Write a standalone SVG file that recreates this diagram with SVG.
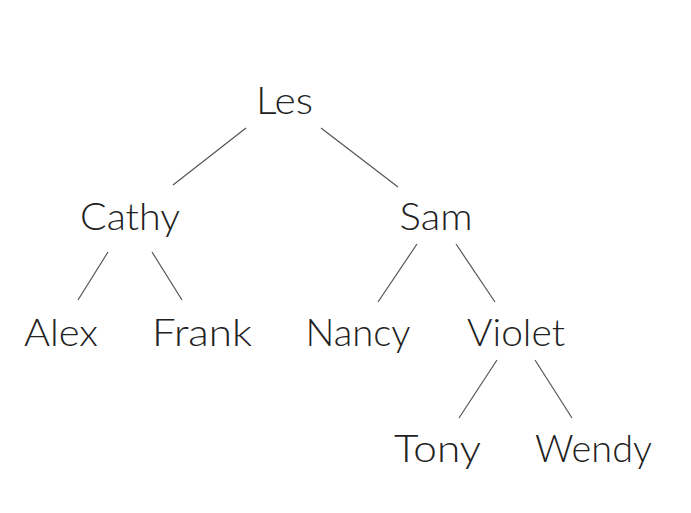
<svg xmlns="http://www.w3.org/2000/svg" width="691" height="513" viewBox="0 0 691 513">
<style>
.lbl{font-family:Lato,"Open Sans","Liberation Sans",sans-serif;font-size:38px;font-weight:300;fill:#222;text-anchor:middle}
.edge{stroke:#555;stroke-width:1.2;fill:none}
</style>
<rect width="691" height="513" fill="#fff"/>
<g id="connectors">
<line class="edge" x1="246" y1="128" x2="173" y2="185"/>
<line class="edge" x1="321" y1="128" x2="398" y2="187"/>
<line class="edge" x1="108" y1="252" x2="78" y2="300"/>
<line class="edge" x1="152" y1="252" x2="182" y2="300"/>
<line class="edge" x1="417" y1="244" x2="378" y2="302"/>
<line class="edge" x1="456" y1="244" x2="495" y2="302"/>
<line class="edge" x1="497" y1="360" x2="459" y2="418"/>
<line class="edge" x1="535" y1="360" x2="572" y2="418"/>
</g>
<g id="les"><text class="lbl" x="284.5" y="114" textLength="57" lengthAdjust="spacingAndGlyphs">Les</text></g>
<g id="cathy"><text class="lbl" x="130" y="230" textLength="100" lengthAdjust="spacingAndGlyphs">Cathy</text></g>
<g id="sam"><text class="lbl" x="436" y="230" textLength="73" lengthAdjust="spacingAndGlyphs">Sam</text></g>
<g id="alex"><text class="lbl" x="61" y="346" textLength="74" lengthAdjust="spacingAndGlyphs">Alex</text></g>
<g id="frank"><text class="lbl" x="202" y="346" textLength="100" lengthAdjust="spacingAndGlyphs">Frank</text></g>
<g id="nancy"><text class="lbl" x="358" y="346" textLength="105" lengthAdjust="spacingAndGlyphs">Nancy</text></g>
<g id="violet"><text class="lbl" x="516" y="346" textLength="98" lengthAdjust="spacingAndGlyphs">Violet</text></g>
<g id="tony"><text class="lbl" x="437.5" y="462" textLength="87" lengthAdjust="spacingAndGlyphs">Tony</text></g>
<g id="wendy"><text class="lbl" x="593.5" y="462" textLength="117" lengthAdjust="spacingAndGlyphs">Wendy</text></g>
</svg>
